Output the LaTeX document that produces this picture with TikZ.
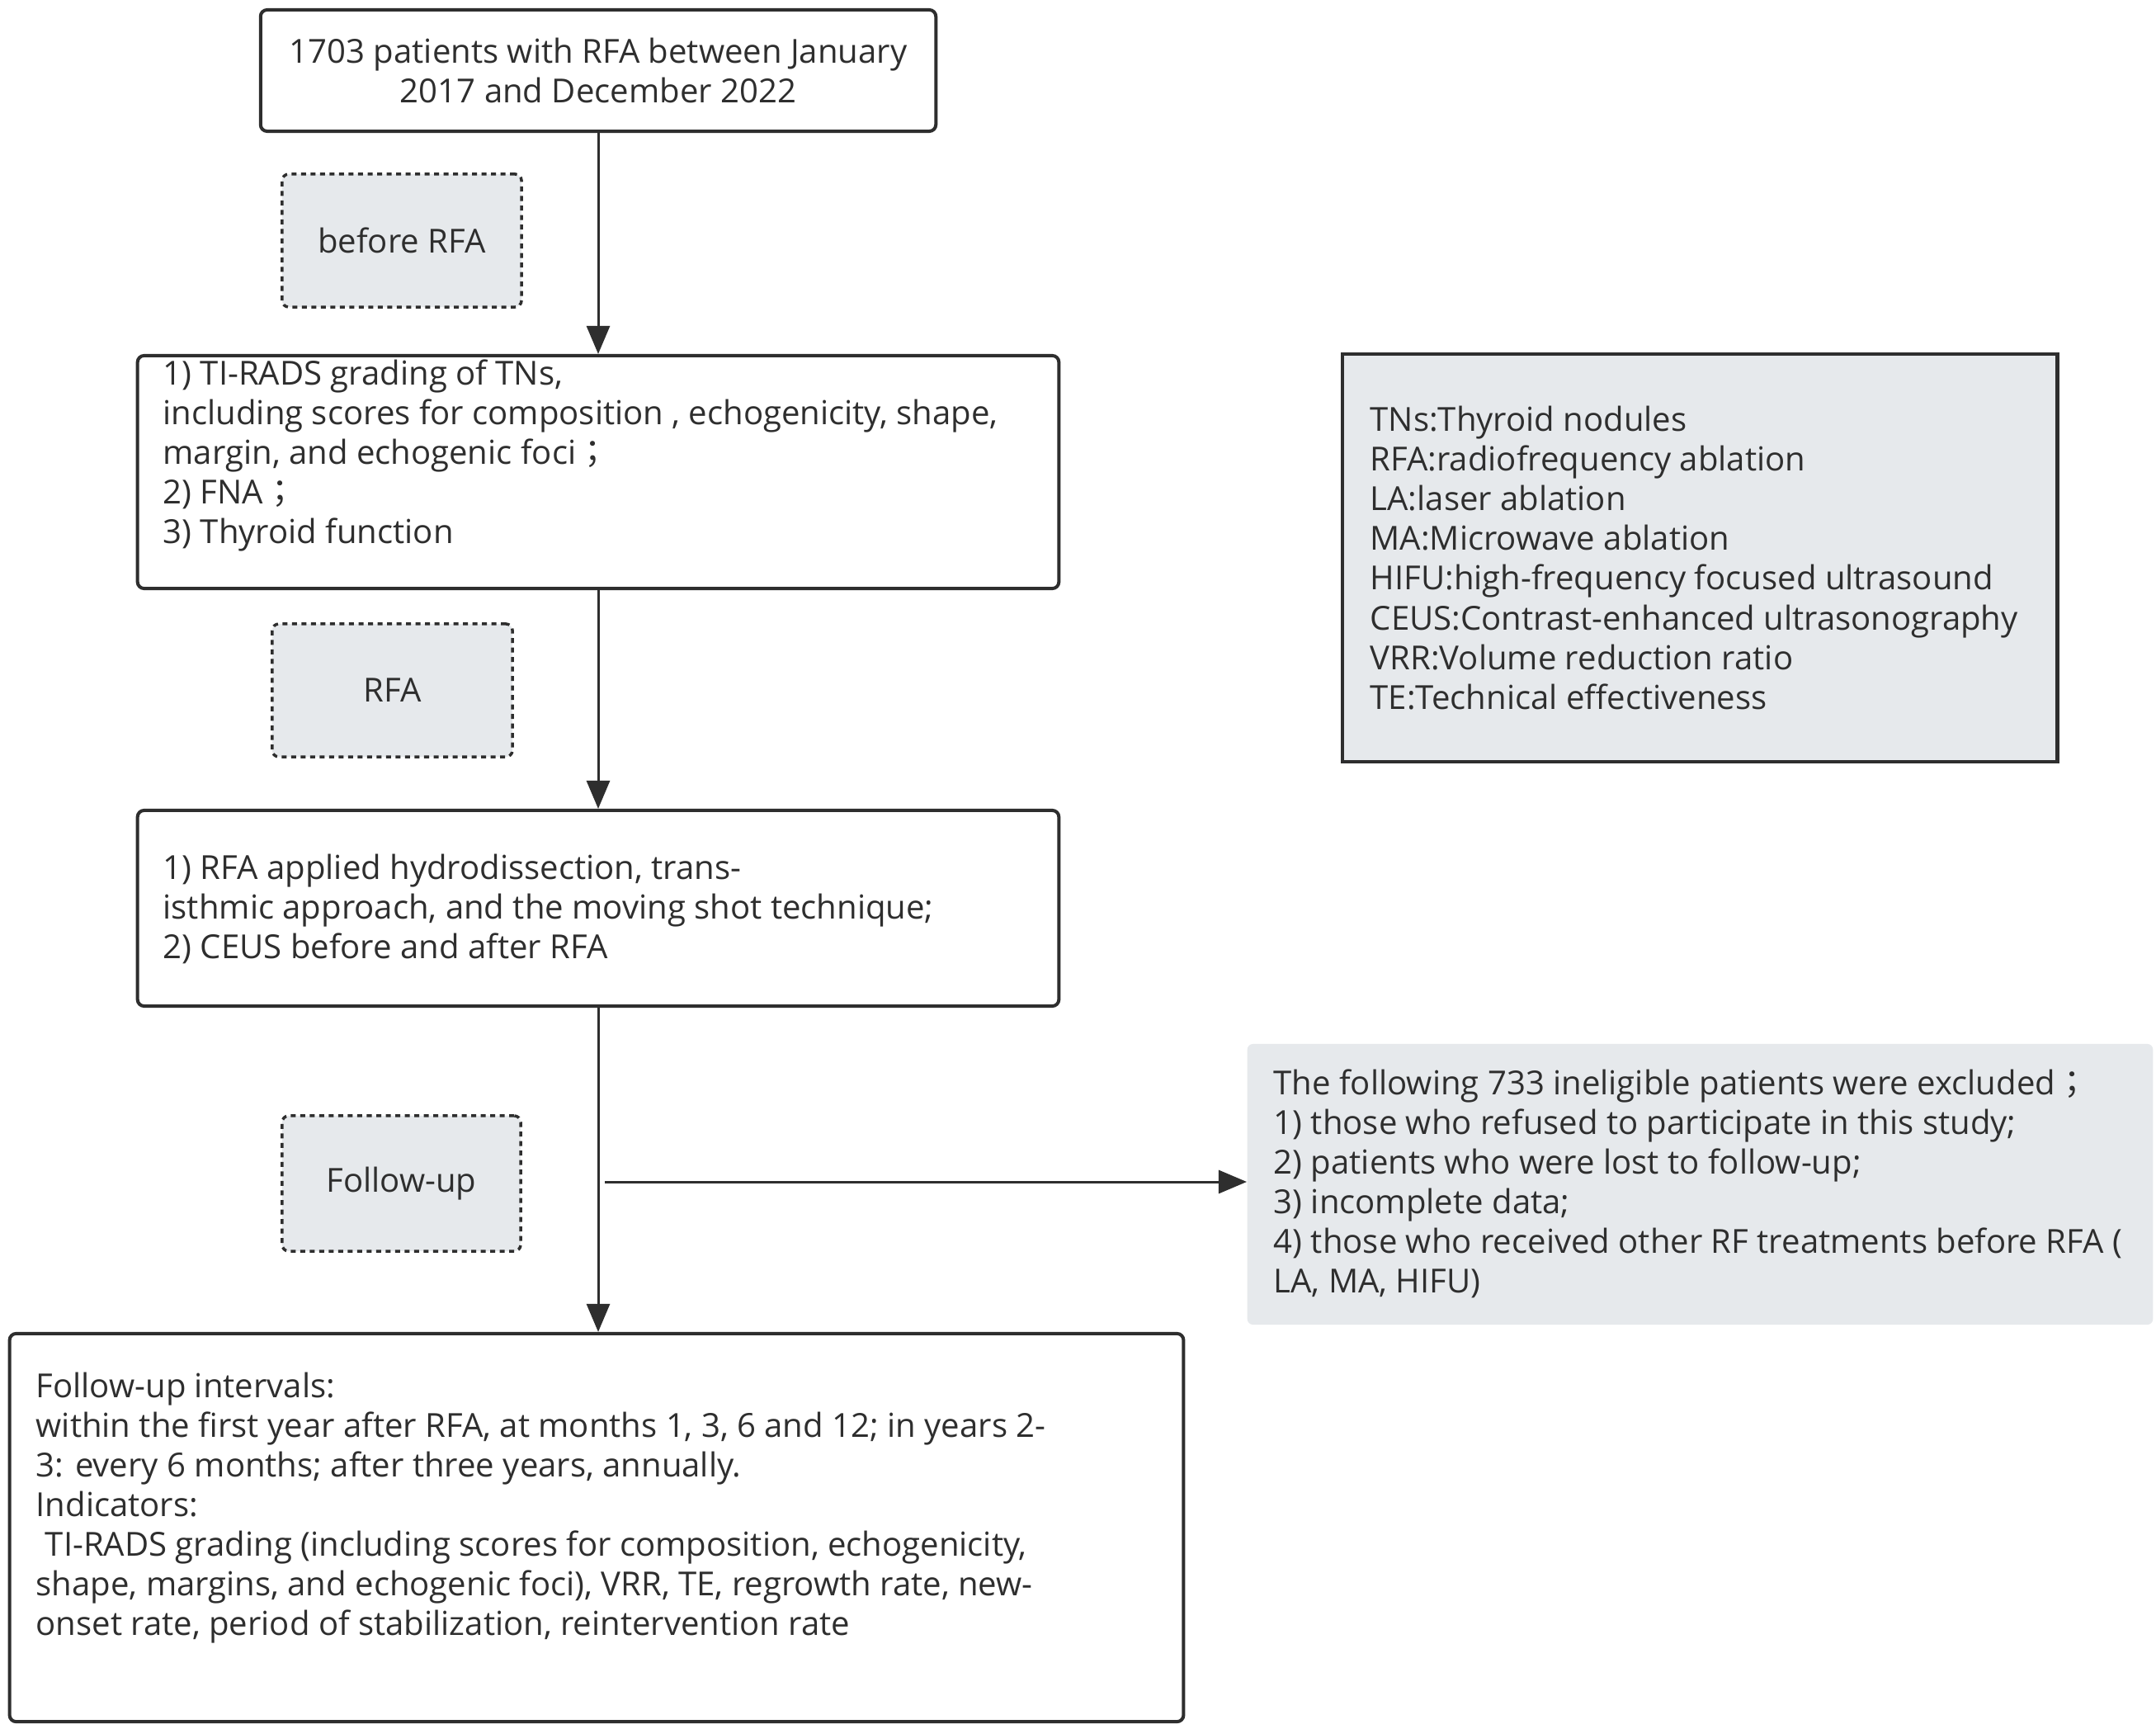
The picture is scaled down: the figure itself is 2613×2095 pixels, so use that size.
\documentclass[tikz,border=0pt]{standalone}
\usepackage{fontspec}
\setmainfont{Open Sans}
\newfontfamily\cjk{Noto Sans CJK TC}
\usetikzlibrary{arrows.meta}
\definecolor{ink}{HTML}{2E2E2E}
\definecolor{boxfill}{HTML}{E6E9EC}
\newcommand{\fsc}{{\cjk ；}}
\begin{document}
\begin{tikzpicture}[x=0.01cm,y=-0.01cm,
  solidbox/.style={draw=ink, line width=0.04cm, rounded corners=0.08cm, fill=white, inner sep=0pt},
  dotbox/.style={draw=ink, line width=0.035cm, rounded corners=0.08cm, fill=boxfill, dash pattern=on 0.06cm off 0.055cm, inner sep=0pt},
  legbox/.style={draw=ink, line width=0.045cm, fill=boxfill, inner sep=0pt},
  excbox/.style={fill=boxfill, rounded corners=0.07cm, inner sep=0pt},
  lbl/.style={text=ink, font=\fontsize{11.4}{13.66}\selectfont},
  txt/.style={text=ink, align=left, inner sep=0pt, anchor=west, font=\fontsize{11.4}{13.66}\selectfont},
  arr/.style={draw=ink, line width=0.03cm, -{Triangle[length=0.34cm,width=0.28cm]}}]
\useasboundingbox (0,0) rectangle (2613,2095);
\fill[white] (0,0) rectangle (2613,2095);

% boxes
\node[solidbox, minimum width=8.18cm, minimum height=1.47cm, lbl, align=center] (top) at (725,85.5)
  {1703 patients with RFA between January\\2017 and December 2022};
\node[dotbox, minimum width=2.90cm, minimum height=1.61cm, lbl] (pre) at (487,291.5) {before RFA};
\node[solidbox, minimum width=11.16cm, minimum height=2.82cm] (b2) at (725,572) {};
\node[dotbox, minimum width=2.91cm, minimum height=1.61cm, lbl] (rfa) at (475.5,836.5) {RFA};
\node[solidbox, minimum width=11.16cm, minimum height=2.37cm] (b3) at (725,1100.5) {};
\node[dotbox, minimum width=2.89cm, minimum height=1.64cm, lbl] (fu) at (486.5,1434) {Follow-up};
\node[solidbox, minimum width=14.22cm, minimum height=4.70cm] (b4) at (723,1851) {};
\node[legbox, minimum width=8.66cm, minimum height=4.94cm] (leg) at (2060,676) {};
\node[excbox, minimum width=10.97cm, minimum height=3.40cm] (exc) at (2060.5,1435) {};

% texts
\node[txt] (b2t) at (197,552) {1) TI-RADS grading of TNs,\\
including scores for composition , echogenicity, shape,\\
margin, and echogenic foci\fsc\\
2) FNA\fsc\\
3) Thyroid function};
\node[txt] (b3t) at (197,1101) {1) RFA applied hydrodissection, trans-\\
isthmic approach, and the moving shot technique;\\
2) CEUS before and after RFA};
\node[txt] (b4t) at (43,1827) {Follow-up intervals:\\
within the first year after RFA, at months 1, 3, 6 and 12; in years 2-\\
3: every 6 months; after three years, annually.\\
Indicators:\\
\hspace*{0.28em}TI-RADS grading (including scores for composition, echogenicity,\\
shape, margins, and echogenic foci), VRR, TE, regrowth rate, new-\\
onset rate, period of stabilization, reintervention rate};
\node[txt] (legt) at (1660,676) {TNs:Thyroid nodules\\
RFA:radiofrequency ablation\\
LA:laser ablation\\
MA:Microwave ablation\\
HIFU:high-frequency focused ultrasound\\
CEUS:Contrast-enhanced ultrasonography\\
VRR:Volume reduction ratio\\
TE:Technical effectiveness};
\node[txt] (exct) at (1543,1434) {The following 733 ineligible patients were excluded\fsc\\
1) those who refused to participate in this study;\\
2) patients who were lost to follow-up;\\
3) incomplete data;\\
4) those who received other RF treatments before RFA (\\
LA, MA, HIFU)};

% connectors
\draw[arr] (top.south) -- (top.south |- b2.north);
\draw[arr] (b2.south) -- (b2.south |- b3.north);
\draw[arr] (b3.south) -- (b3.south |- b4.north);
\coordinate (fs) at (733,1432);
\draw[arr] (fs) -- (fs -| exc.west);
\end{tikzpicture}
\end{document}
